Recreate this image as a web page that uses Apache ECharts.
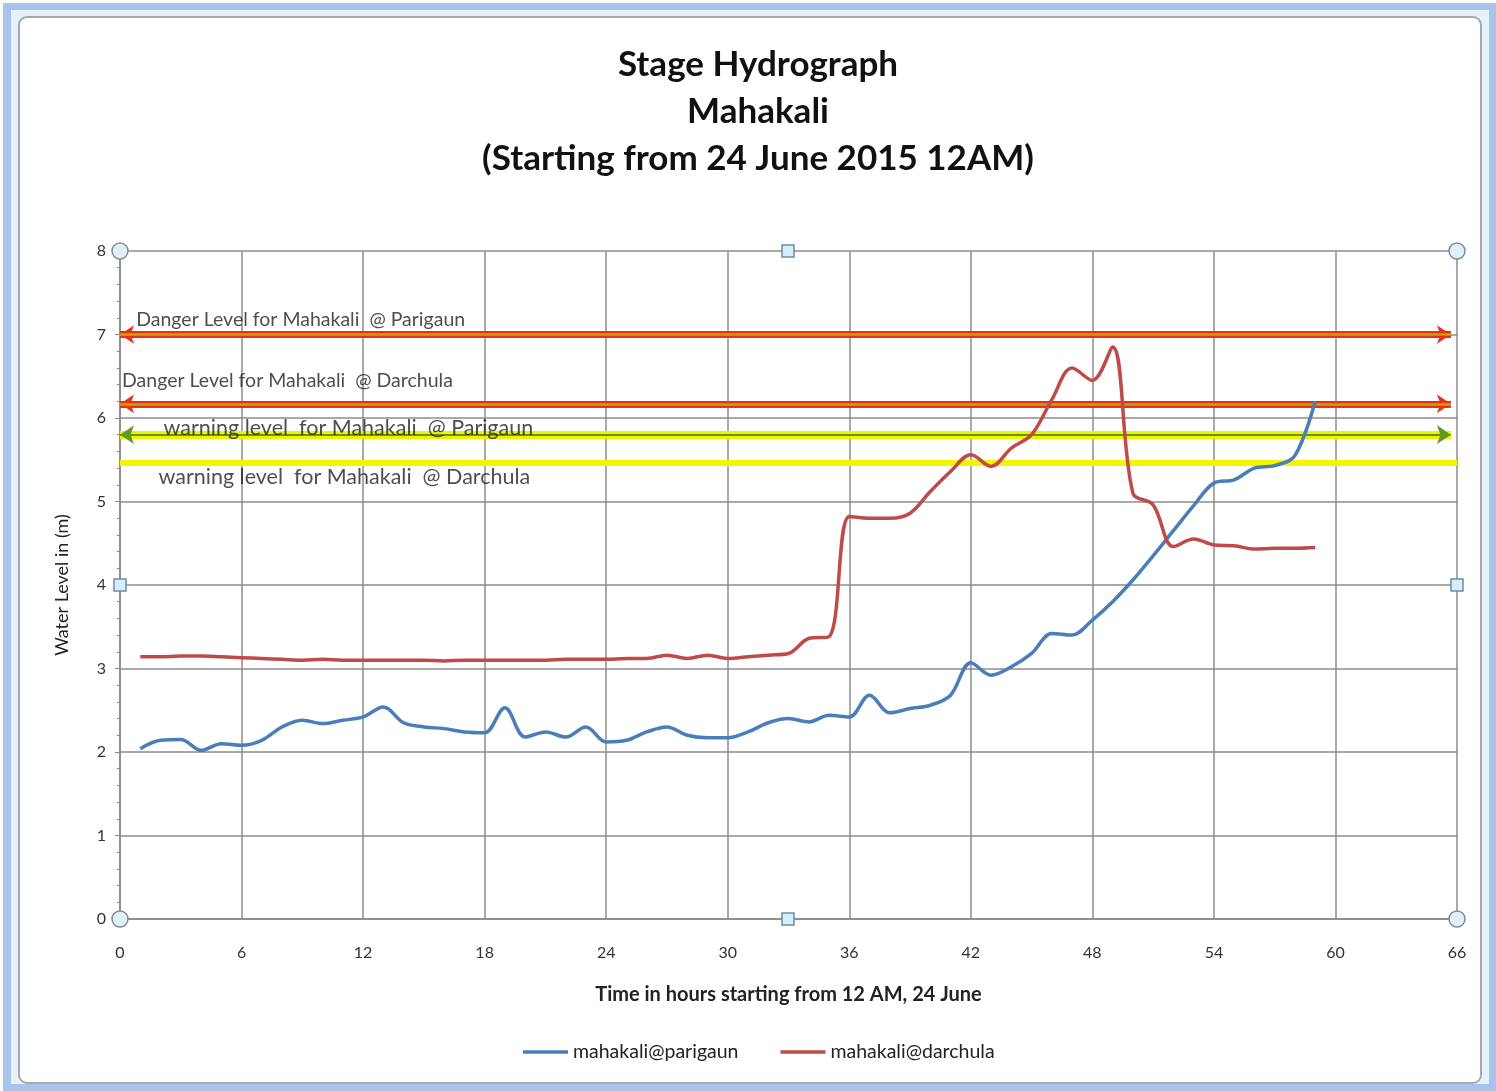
<!DOCTYPE html>
<html>
<head>
<meta charset="utf-8">
<script src="https://cdn.jsdelivr.net/npm/echarts@6/dist/echarts.min.js"></script>
<style>
html,body{margin:0;padding:0;background:#fff;}
#chart{width:1496px;height:1091px;}
</style>
</head>
<body>
<div id="chart"></div>
<script>
// ---- data ----
const hours = [1,2,3,4,5,6,7,8,9,10,11,12,13,14,15,16,17,18,19,20,21,22,23,24,25,26,27,28,29,30,31,32,33,34,35,36,37,38,39,40,41,42,43,44,45,46,47,48,49,50,51,52,53,54,55,56,57,58,59];
const parigaun = [2.04,2.14,2.15,2.02,2.10,2.08,2.14,2.30,2.38,2.34,2.38,2.42,2.54,2.35,2.30,2.28,2.24,2.23,2.53,2.18,2.24,2.18,2.30,2.12,2.14,2.24,2.30,2.20,2.17,2.17,2.24,2.35,2.40,2.36,2.44,2.42,2.68,2.47,2.52,2.56,2.68,3.07,2.92,3.02,3.18,3.42,3.40,3.58,3.80,4.06,4.35,4.65,4.95,5.22,5.26,5.40,5.43,5.55,6.20];
const darchula = [3.14,3.14,3.15,3.15,3.14,3.13,3.12,3.11,3.10,3.11,3.10,3.10,3.10,3.10,3.10,3.09,3.10,3.10,3.10,3.10,3.10,3.11,3.11,3.11,3.12,3.12,3.16,3.12,3.16,3.12,3.14,3.16,3.18,3.36,3.38,4.82,4.80,4.80,4.86,5.12,5.36,5.56,5.42,5.64,5.80,6.22,6.60,6.45,6.85,5.10,4.96,4.46,4.55,4.48,4.47,4.43,4.44,4.44,4.45];
const seriesNames = ['mahakali@parigaun','mahakali@darchula'];
const xTicks = {min:0, max:66, interval:6};
const yTicks = {min:0, max:8, interval:1};

// reference levels (m)
const levelNames = ['Danger Level for Mahakali  @ Parigaun','Danger Level for Mahakali  @ Darchula','warning level  for Mahakali  @ Parigaun','warning level  for Mahakali  @ Darchula'];
const levelValues = [7.0, 6.17, 5.80, 5.47];
const levelEndHour = [65.7, 65.7, 65.7, 66];
// annotation anchor [hour, level]
const labelHour = [0.8, 0.1, 2.15, 1.9];
const labelLevel = [7.18, 6.45, 5.88, 5.29];

const chart = echarts.init(document.getElementById('chart'));
const FONT = 'Lato, "Open Sans", sans-serif';

function pairs(xs, ys){ return xs.map((x,i)=>[x, ys[i]]); }

function levelLine(i, color, width, arrows, z){
  return {
    type:'line', data:[], z:z, silent:true,
    markLine:{
      silent:true, animation:false,
      symbol: arrows ? ['arrow','arrow'] : ['none','none'],
      symbolSize: arrows ? [14, 14] : 0,
      label:{show:false},
      lineStyle:{color:color, width:width, type:'solid'},
      data:[[{coord:[0, levelValues[i]]},{coord:[levelEndHour[i], levelValues[i]]}]]
    }
  };
}

const labelSeries = levelNames.map((name,i)=>({
  type:'scatter', z:20, silent:true, symbolSize:0,
  data:[[labelHour[i], labelLevel[i]]],
  label:{show:true, position:'right', distance:0, formatter:name,
    fontFamily:FONT, fontSize: i<2 ? 19.5 : 21.5, color:'#222'}
}));

const option = {
  backgroundColor:'#ffffff',
  animation:false,
  title:{
    text:'Stage Hydrograph\nMahakali\n(Starting from 24 June 2015 12AM)',
    left:753, textAlign:'center', top:36,
    textStyle:{fontFamily:FONT, fontSize:35, fontWeight:'bold', color:'#111', lineHeight:47}
  },
  legend:{
    data:seriesNames, bottom:24, left:518, itemWidth:45, itemHeight:3.5, itemGap:42, icon:'rect',
    textStyle:{fontFamily:FONT, fontSize:19.5, color:'#222'}
  },
  grid:{left:120, right:39, top:251, bottom:172},
  xAxis:{
    type:'value', min:xTicks.min, max:xTicks.max, interval:xTicks.interval,
    name:'Time in hours starting from 12 AM, 24 June', nameLocation:'middle', nameGap:66,
    nameTextStyle:{fontFamily:FONT, fontSize:20, fontWeight:'bold', color:'#222'},
    axisLine:{show:true, lineStyle:{color:'#888', width:1.5}},
    axisTick:{show:false},
    axisLabel:{fontFamily:FONT, fontSize:16, color:'#333', margin:26},
    splitLine:{show:true, lineStyle:{color:'#8c8c8c', width:1.5}}
  },
  yAxis:{
    type:'value', min:yTicks.min, max:yTicks.max, interval:yTicks.interval,
    name:'Water Level in (m)', nameLocation:'middle', nameGap:49,
    nameTextStyle:{fontFamily:FONT, fontSize:18, color:'#222'},
    axisLine:{show:true, lineStyle:{color:'#888', width:1.5}},
    axisTick:{show:true, length:5, lineStyle:{color:'#888'}},
    minorTick:{show:true, splitNumber:5, length:3, lineStyle:{color:'#888'}},
    axisLabel:{fontFamily:FONT, fontSize:16, color:'#333', margin:14},
    splitLine:{show:true, lineStyle:{color:'#8c8c8c', width:1.5}}
  },
  series:[
    {name:seriesNames[0], type:'line', smooth:0.35, showSymbol:false, symbol:'none', z:5,
     lineStyle:{color:'#4a7ebb', width:3.5}, itemStyle:{color:'#4a7ebb'},
     data:pairs(hours, parigaun)},
    {name:seriesNames[1], type:'line', smooth:0.35, showSymbol:false, symbol:'none', z:5,
     lineStyle:{color:'#be4b48', width:3.5}, itemStyle:{color:'#be4b48'},
     data:pairs(hours, darchula)},
    // danger lines: red outline with olive core
    levelLine(0, '#e8301c', 7, true, 10),
    levelLine(0, '#c9a400', 2.5, false, 11),
    levelLine(1, '#e8301c', 7, true, 10),
    levelLine(1, '#c9a400', 2.5, false, 11),
    // warning parigaun: yellow with green core
    levelLine(2, '#f2f200', 8, false, 10),
    levelLine(2, '#5e9a1e', 2, true, 11),
    // warning darchula: yellow
    levelLine(3, '#f5f500', 6, false, 10)
  ].concat(labelSeries),
  graphic:[
    {type:'rect', z:-10, shape:{x:3, y:3, width:1493, height:1088}, style:{fill:'#a9c4ec'}},
    {type:'rect', z:-9, shape:{x:11, y:10, width:1478, height:1074}, style:{fill:'#e4f3fb'}},
    {type:'rect', z:-8, shape:{x:19, y:17, width:1462, height:1066, r:8}, style:{fill:'#ffffff', stroke:'#a8a8a8', lineWidth:2}},
    // plot-area selection handles
    {type:'circle', z:50, shape:{cx:120, cy:251, r:8}, style:{fill:'#e2f0fa', stroke:'#7f8c99', lineWidth:1.5}},
    {type:'circle', z:50, shape:{cx:1457, cy:251, r:8}, style:{fill:'#e2f0fa', stroke:'#7f8c99', lineWidth:1.5}},
    {type:'circle', z:50, shape:{cx:120, cy:919, r:8}, style:{fill:'#e2f0fa', stroke:'#7f8c99', lineWidth:1.5}},
    {type:'circle', z:50, shape:{cx:1457, cy:919, r:8}, style:{fill:'#e2f0fa', stroke:'#7f8c99', lineWidth:1.5}},
    {type:'rect', z:50, shape:{x:782, y:245, width:12, height:12}, style:{fill:'#d6edfb', stroke:'#6f8aa6', lineWidth:1.5}},
    {type:'rect', z:50, shape:{x:782, y:913, width:12, height:12}, style:{fill:'#d6edfb', stroke:'#6f8aa6', lineWidth:1.5}},
    {type:'rect', z:50, shape:{x:114, y:579, width:12, height:12}, style:{fill:'#d6edfb', stroke:'#6f8aa6', lineWidth:1.5}},
    {type:'rect', z:50, shape:{x:1451, y:579, width:12, height:12}, style:{fill:'#d6edfb', stroke:'#6f8aa6', lineWidth:1.5}}
  ]
};
chart.setOption(option);
</script>
</body>
</html>
